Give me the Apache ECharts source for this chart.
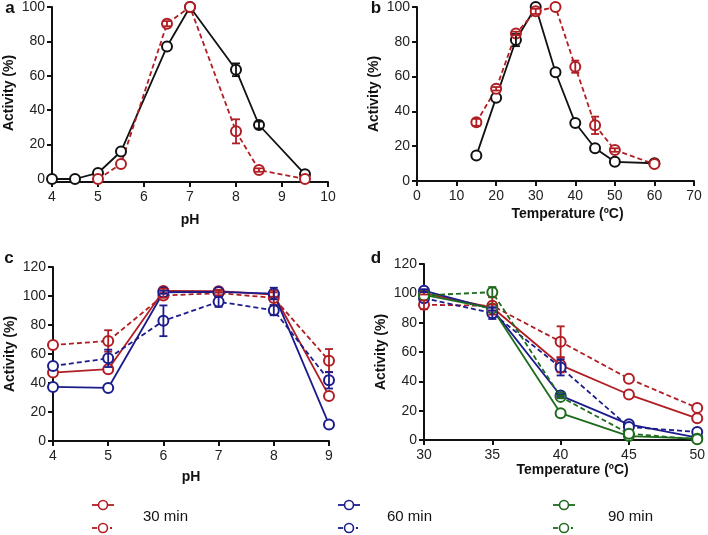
<!DOCTYPE html>
<html><head><meta charset="utf-8">
<script src="https://cdn.jsdelivr.net/npm/echarts@6/dist/echarts.min.js"></script>
<style>html,body{margin:0;padding:0;background:#fff}#c{width:708px;height:535px}</style>
</head><body><div id="c"></div>
<script>
// ---- Panel a (pH) ----
const aBlackX = [4, 4.5, 5, 5.5, 6.5, 7, 8, 8.5, 9.5];
const aBlack = [0, 0, 3.5, 16, 77, 100, 63.5, 31.4, 2.7];
const aBlackErr = [0, 0, 0, 0, 0, 0, 3.7, 2, 0];
const aRedX = [5, 5.5, 6.5, 7, 8, 8.5, 9.5];
const aRed = [0, 8.7, 90.3, 100, 27.7, 5.2, 0];
const aRedErr = [0, 0, 1.5, 0, 7, 1, 0];
// ---- Panel b (temperature) ----
const bX = [15, 20, 25, 30, 35, 40, 45, 50, 60];
const bBlack = [14.6, 47.9, 81, 100, 62.5, 33.3, 18.8, 11, 10.2];
const bBlackErr = [0, 0, 3.5, 0, 0, 0, 0, 0, 0];
const bRed = [33.7, 53, 84.8, 97.5, 100, 65.7, 32, 17.8, 9.7];
const bRedErr = [2, 1, 1, 1.5, 0, 3.5, 5, 1, 0];
// ---- Panel c (pH stability) ----
const cX = [4, 5, 6, 7, 8, 9];
const c30Solid = [47.2, 49.5, 103.5, 103.3, 101, 31.1];
const c30SolidErr = [0, 0, 1.5, 1, 1.5, 0];
const c30Dashed = [66.2, 69, 100.3, 102, 98.7, 55.4];
const c30DashedErr = [0, 7.4, 1.5, 1.5, 5, 8];
const c60Solid = [37.3, 36.6, 102.6, 102.8, 101.7, 11.4];
const c60SolidErr = [0, 0, 1, 0, 4, 0];
const c60Dashed = [51.7, 57, 82.9, 96, 90.2, 41.9];
const c60DashedErr = [0, 6, 10.6, 3.5, 3.5, 5.7];
// ---- Panel d (thermal stability) ----
const dX = [30, 35, 40, 45, 50];
const d30Solid = [100.2, 90.3, 51.1, 31, 14.8];
const d30SolidErr = [1, 2, 5, 0, 0];
const d30Dashed = [92.2, 91.5, 67, 41.8, 21.9];
const d30DashedErr = [3, 6, 10.5, 0, 0];
const d60Solid = [101.8, 89.2, 30.3, 10.7, 1.6];
const d60SolidErr = [1, 1, 1, 0, 0];
const d60Dashed = [96.7, 86.5, 49.5, 8.9, 5.5];
const d60DashedErr = [0, 4, 5.5, 0, 0];
const d90Solid = [99, 89.7, 18.3, 2.7, 0.9];
const d90SolidErr = [0, 0, 0, 0, 0];
const d90Dashed = [98.6, 100.8, 29.4, 4.3, 0.5];
const d90DashedErr = [0, 3.5, 1, 0, 0];

const legendLabels = ['30 min', '60 min', '90 min'];
const panelLetters = ['a', 'b', 'c', 'd'];

const RED = '#B01E24', BLUE = '#1C1C8C', GREEN = '#1E6B1E', BLACK = '#111';
const FONT = 'Liberation Sans, Arial, sans-serif';

function lineSeries(name, gi, xs, ys, color, dashed) {
  return {
    name, type: 'line', xAxisIndex: gi, yAxisIndex: gi,
    data: xs.map((x, i) => [x, ys[i]]),
    symbol: 'emptyCircle', symbolSize: 10, showAllSymbol: true,
    lineStyle: { color, width: 1.8, type: dashed ? [5, 3] : 'solid' },
    itemStyle: { color, borderColor: color, borderWidth: 1.6 },
    z: 4, silent: true
  };
}
function errSeries(gi, xs, ys, es, color) {
  return {
    type: 'custom', xAxisIndex: gi, yAxisIndex: gi, silent: true, z: 5,
    data: xs.map((x, i) => [x, ys[i], es[i]]).filter(d => d[2] > 0),
    renderItem: (params, api) => {
      const x = api.value(0), y = api.value(1), e = api.value(2);
      const t = api.coord([x, y + e]), b = api.coord([x, y - e]);
      const hw = 4, st = { stroke: color, lineWidth: 1.8 };
      return { type: 'group', children: [
        { type: 'line', shape: { x1: t[0], y1: t[1], x2: b[0], y2: b[1] }, style: st },
        { type: 'line', shape: { x1: t[0] - hw, y1: t[1], x2: t[0] + hw, y2: t[1] }, style: st },
        { type: 'line', shape: { x1: b[0] - hw, y1: b[1], x2: b[0] + hw, y2: b[1] }, style: st }
      ]};
    }
  };
}
function both(name, gi, xs, ys, es, color, dashed) {
  return [lineSeries(name, gi, xs, ys, color, dashed), errSeries(gi, xs, ys, es, color)];
}

const axisLine = { show: true, onZero: false, lineStyle: { color: BLACK, width: 2 } };
const axisTick = { show: true, length: 5, lineStyle: { color: BLACK, width: 2 } };
const axisLabel = { color: '#222', fontSize: 14, fontFamily: FONT };
const nameStyle = { color: '#111', fontSize: 14, fontWeight: 'bold', fontFamily: FONT };

function xAx(gi, min, max, interval, name, nameGap, offset, shift) {
  return { type: 'value', gridIndex: gi, min, max, interval, offset: offset || 0,
    name, nameLocation: 'middle', nameGap,
    nameTextStyle: Object.assign({}, nameStyle, shift ? { padding: [0, 0, 0, shift] } : {}),
    axisLine, axisTick, axisLabel: Object.assign({ margin: 8 }, axisLabel), splitLine: { show: false } };
}
function yAx(gi, max) {
  return { type: 'value', gridIndex: gi, min: 0, max, interval: 20,
    name: 'Activity (%)', nameLocation: 'middle', nameGap: 36, nameTextStyle: nameStyle,
    axisLine, axisTick, axisLabel: Object.assign({ margin: 7 }, axisLabel), splitLine: { show: false } };
}

const series = [].concat(
  both('a-black', 0, aBlackX, aBlack, aBlackErr, BLACK, false),
  both('a-red', 0, aRedX, aRed, aRedErr, RED, true),
  both('b-black', 1, bX, bBlack, bBlackErr, BLACK, false),
  both('b-red', 1, bX, bRed, bRedErr, RED, true),
  both('c-30', 2, cX, c30Solid, c30SolidErr, RED, false),
  both('c-30d', 2, cX, c30Dashed, c30DashedErr, RED, true),
  both('c-60', 2, cX, c60Solid, c60SolidErr, BLUE, false),
  both('c-60d', 2, cX, c60Dashed, c60DashedErr, BLUE, true),
  both('d-30', 3, dX, d30Solid, d30SolidErr, RED, false),
  both('d-30d', 3, dX, d30Dashed, d30DashedErr, RED, true),
  both('d-60', 3, dX, d60Solid, d60SolidErr, BLUE, false),
  both('d-60d', 3, dX, d60Dashed, d60DashedErr, BLUE, true),
  both('d-90', 3, dX, d90Solid, d90SolidErr, GREEN, false),
  both('d-90d', 3, dX, d90Dashed, d90DashedErr, GREEN, true)
);

// legend drawn as graphics
const legendColors = [RED, BLUE, GREEN];
const legendCx = [103, 349, 564];
const legendTx = [143, 387, 608];
const graphic = [];
legendColors.forEach((col, i) => {
  const cx = legendCx[i];
  graphic.push({ type: 'line', shape: { x1: cx - 11, y1: 505, x2: cx + 11, y2: 505 }, style: { stroke: col, lineWidth: 1.8 } });
  graphic.push({ type: 'circle', shape: { cx, cy: 505, r: 4.5 }, style: { fill: '#fff', stroke: col, lineWidth: 1.6 } });
  graphic.push({ type: 'line', shape: { x1: cx - 11, y1: 528, x2: cx - 6, y2: 528 }, style: { stroke: col, lineWidth: 1.8 } });
  graphic.push({ type: 'line', shape: { x1: cx + 7, y1: 528, x2: cx + 9, y2: 528 }, style: { stroke: col, lineWidth: 1.8 } });
  graphic.push({ type: 'circle', shape: { cx, cy: 528, r: 4.5 }, style: { fill: '#fff', stroke: col, lineWidth: 1.6 } });
  graphic.push({ type: 'text', x: legendTx[i], y: 517, style: { text: legendLabels[i], fill: '#111', font: '15px ' + FONT, verticalAlign: 'middle', align: 'left' } });
});
const letterPos = [[10, 8], [376, 8], [9, 258], [376, 258]];
panelLetters.forEach((t, i) => {
  graphic.push({ type: 'text', x: letterPos[i][0], y: letterPos[i][1], style: { text: t, fill: '#111', font: 'bold 17px ' + FONT, align: 'center', verticalAlign: 'middle' } });
});
// short extension of panel a's y-axis down to its offset x-axis
graphic.push({ type: 'line', shape: { x1: 52, y1: 178, x2: 52, y2: 183 }, style: { stroke: BLACK, lineWidth: 2 } });

const chart = echarts.init(document.getElementById('c'), null, { renderer: 'canvas' });
chart.setOption({
  animation: false,
  backgroundColor: '#fff',
  grid: [
    { left: 52, top: 7, width: 276, height: 172 },
    { left: 417, top: 5, width: 277, height: 176 },
    { left: 53, top: 267, width: 276, height: 174 },
    { left: 424, top: 264, width: 277, height: 176 }
  ],
  xAxis: [
    xAx(0, 4, 10, 1, 'pH', 31, 3),
    xAx(1, 0, 70, 10, 'Temperature (ºC)', 26, 0, 24),
    xAx(2, 4, 9, 1, 'pH', 29, 0),
    xAx(3, 30, 50, 5, 'Temperature (ºC)', 20, 0, 24)
  ],
  yAxis: [yAx(0, 100), yAx(1, 100), yAx(2, 120), yAx(3, 120)],
  series,
  graphic
});
</script></body></html>
